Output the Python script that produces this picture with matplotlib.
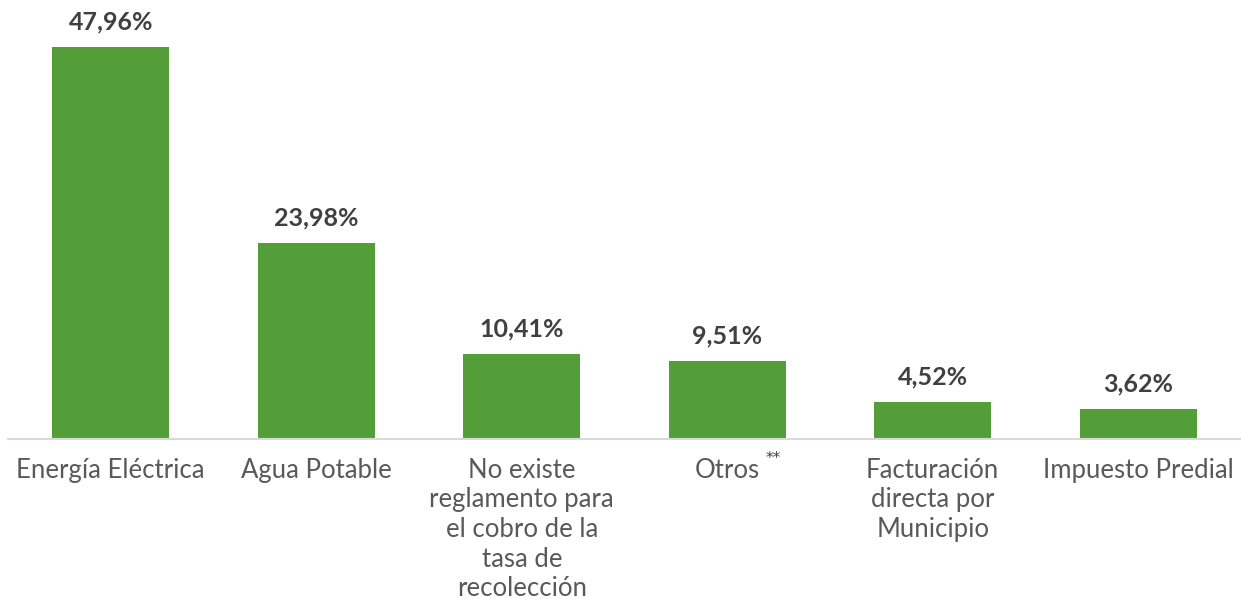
import matplotlib
matplotlib.use("Agg")
import matplotlib.pyplot as plt

categories = [
    "Energía Eléctrica",
    "Agua Potable",
    "No existe\nreglamento para\nel cobro de la\ntasa de\nrecolección",
    "Otros",
    "Facturación\ndirecta por\nMunicipio",
    "Impuesto Predial",
]
values = [47.96, 23.98, 10.41, 9.51, 4.52, 3.62]
value_labels = ["47,96%", "23,98%", "10,41%", "9,51%", "4,52%", "3,62%"]

plt.rcParams["font.family"] = ["Lato", "DejaVu Sans"]

fig = plt.figure(figsize=(12.41, 5.99), dpi=100)
ax = fig.add_axes([8 / 1241, 160 / 599, 1233 / 1241, 439 / 599])

x = list(range(len(categories)))
bars = ax.bar(x, values, width=0.57, color="#549E39", zorder=2)

ax.set_xlim(-0.5, len(categories) - 0.5)
ax.set_ylim(0, 53.7)

for rect, lab in zip(bars, value_labels):
    ax.annotate(lab, (rect.get_x() + rect.get_width() / 2, rect.get_height()),
                xytext=(0, 10), textcoords="offset points", ha="center", va="bottom",
                fontsize=18, fontweight="bold", color="#404040")

ax.set_xticks(x)
ax.set_xticklabels(categories, fontsize=18.5, color="#595959", linespacing=1.23)
ax.tick_params(axis="x", length=0, pad=13.5)
ax.set_yticks([])

for s in ["top", "left", "right"]:
    ax.spines[s].set_visible(False)
ax.spines["bottom"].set_color("#D9D9D9")
ax.spines["bottom"].set_linewidth(1.5)

# footnote marker next to "Otros"
ax.text(3.225, -0.045, "**", transform=ax.get_xaxis_transform(), ha="center",
        va="center", fontsize=11, color="#404040", family="DejaVu Sans")

fig.savefig("out.png", dpi=100)
